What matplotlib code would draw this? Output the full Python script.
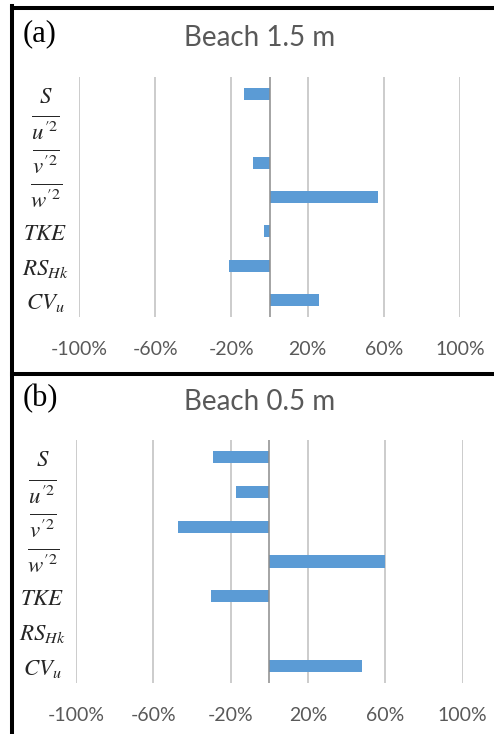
import matplotlib.pyplot as plt
from matplotlib.lines import Line2D
import numpy as np

plt.rcParams['mathtext.fontset'] = 'stix'

# параметры (подписи по оси y)
labels = [r'$S$', '$\\overline{u^{\u20322}}$', '$\\overline{v^{\u20322}}$',
          '$\\overline{w^{\u20322}}$', r'$TKE$', r'$RS_{Hk}$', r'$CV_u$']

# изменение в процентах
beach_15 = [-13.5, 0, -8.5, 57, -3, -21, 26]
beach_05 = [-29, -17.5, -47, 60, -30, 0, 48]

x_ticks = [-100, -60, -20, 20, 60, 100]
x_ticklabels = ['-100%', '-60%', '-20%', '20%', '60%', '100%']

W, H = 494, 734
fig = plt.figure(figsize=(W / 100, H / 100), dpi=100)

gray_txt = '#595959'
bar_col = '#5B9BD5'


def px_axes(left, top, right, bottom):
    return fig.add_axes([left / W, 1 - bottom / H, (right - left) / W, (bottom - top) / H])


def draw_panel(ax, values):
    y = np.arange(len(labels))
    for t in x_ticks:
        ax.axvline(t, color='#BFBFBF', lw=1.1, zorder=1)
    ax.barh(y, values, height=0.35, color=bar_col, zorder=2)
    ax.axvline(0, color='#8C8C8C', lw=1.1, zorder=3)
    ax.set_xlim(-100, 100)
    ax.set_ylim(len(labels) - 0.5, -0.5)
    ax.set_xticks(x_ticks)
    ax.set_xticklabels(x_ticklabels, fontsize=14, color=gray_txt, family='Lato')
    ax.set_yticks(y)
    ax.set_yticklabels(labels, fontsize=16.5, color='#262626')
    for lab in ax.get_yticklabels():
        lab.set_horizontalalignment('center')
    ax.tick_params(axis='x', length=0, pad=17)
    ax.tick_params(axis='y', length=0, pad=24)
    for s in ax.spines.values():
        s.set_visible(False)
    ax.patch.set_alpha(0)


ax1 = px_axes(79, 77, 460, 317)
draw_panel(ax1, beach_15)
ax2 = px_axes(76, 440, 462.7, 683)
draw_panel(ax2, beach_05)

# заголовки и буквы панелей
fig.text(260 / W, 1 - 38 / H, 'Beach 1.5 m', ha='center', va='center',
         fontsize=20, color=gray_txt, family='Lato')
fig.text(260 / W, 1 - 402 / H, 'Beach 0.5 m', ha='center', va='center',
         fontsize=20, color=gray_txt, family='Lato')
fig.text(23 / W, 1 - 34 / H, '(a)', ha='left', va='center', fontsize=22,
         family='Liberation Serif')
fig.text(23 / W, 1 - 399 / H, '(b)', ha='left', va='center', fontsize=22,
         family='Liberation Serif')

# рамки
lw = 2.9
fig.add_artist(Line2D([12 / W, 1], [1 - 7.5 / H] * 2, color='black', lw=lw,
                      transform=fig.transFigure))
fig.add_artist(Line2D([12 / W, 1], [1 - 373.5 / H] * 2, color='black', lw=lw,
                      transform=fig.transFigure))
fig.add_artist(Line2D([12 / W] * 2, [0, 1 - 6 / H], color='black', lw=lw,
                      transform=fig.transFigure))

fig.savefig('out.png', dpi=100)
